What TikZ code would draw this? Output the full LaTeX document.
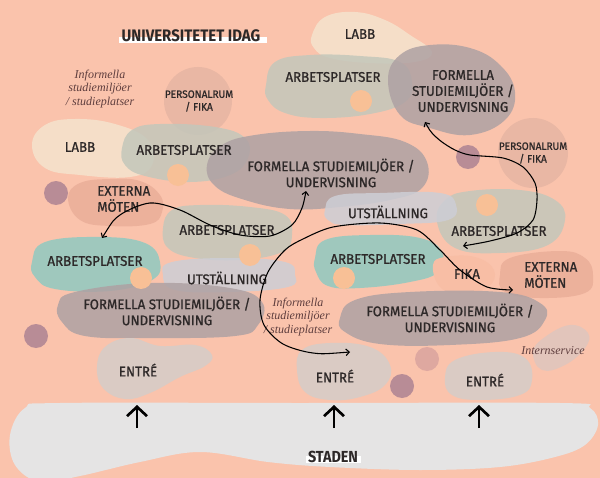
\documentclass[tikz,border=0pt]{standalone}
\usepackage{fontspec}
\setmainfont{Fira Sans}[FakeStretch=0.95,FakeBold=0.9]
\newfontfamily\boldlab{Fira Sans Bold}[FakeStretch=0.9]
\newfontfamily\seriflab{Liberation Serif}
\usetikzlibrary{arrows.meta}
\definecolor{bg}{RGB}{250,195,172}
\definecolor{cream}{RGB}{245,227,205}
\definecolor{sage}{RGB}{195,199,187}
\definecolor{mauve}{RGB}{174,161,163}
\definecolor{teal}{RGB}{144,202,193}
\definecolor{utst}{RGB}{205,206,214}
\definecolor{ext}{RGB}{234,174,153}
\definecolor{entre}{RGB}{218,203,196}
\definecolor{staden}{RGB}{229,228,228}
\definecolor{pers}{RGB}{233,183,164}
\definecolor{orng}{RGB}{248,192,150}
\definecolor{dotm}{RGB}{184,140,150}
\definecolor{dotp}{RGB}{222,168,160}
\definecolor{fika}{RGB}{248,190,165}
\definecolor{intern}{RGB}{226,197,187}
\definecolor{ink}{RGB}{45,40,40}
\definecolor{itink}{RGB}{95,62,62}
\tikzset{
  blob/.style={fill opacity=0.85},
  lab/.style={font=\fontsize{10.5}{12}\selectfont, text=ink, align=center, inner sep=0pt},
  smalllab/.style={font=\fontsize{8}{9.5}\selectfont, text=ink, align=center, inner sep=0pt},
  itlab/.style={font=\fontsize{9}{10}\selectfont\seriflab\itshape, text=itink, align=center, inner sep=0pt},
  flow/.style={line width=0.8pt, black, {Straight Barb[length=2.5pt,width=5pt]}-{Straight Barb[length=2.5pt,width=5pt]}},
  uparrow/.style={line width=2pt, black, -{Straight Barb[length=7pt,width=15pt]}},
  odot/.style={fill=orng},
}
\begin{document}
\begin{tikzpicture}[x=0.75pt,y=-0.75pt]
\useasboundingbox (0,0) rectangle (600,478);
\fill[bg] (0,0) rectangle (600,478);
\begin{scope}
\clip (0,0) rectangle (600,478);
% cream LABB blobs
\fill[cream,blob] plot[smooth cycle,tension=0.7] coordinates {(312,35)(325,17)(355,12)(385,20)(410,35)(432,52)(415,62)(370,63)(330,58)(314,48)};
\fill[cream,blob] plot[smooth cycle,tension=0.7] coordinates {(32,145)(45,125)(75,119)(115,124)(148,140)(152,165)(130,177)(80,175)(45,168)};
% personalrum circles
\fill[pers] (198,101) circle (34);
\fill[pers] (533,153) circle (35);
% sage blobs
\fill[sage,blob] plot[smooth cycle,tension=0.7] coordinates {(266,85)(275,62)(310,55)(360,56)(400,62)(412,82)(405,102)(370,114)(320,118)(285,113)(268,100)};
\fill[sage,blob] plot[smooth cycle,tension=0.7] coordinates {(122,148)(132,130)(160,124)(215,127)(245,138)(248,158)(230,175)(190,182)(145,176)(125,165)};
\fill[sage,blob] plot[smooth cycle,tension=0.7] coordinates {(163,228)(172,210)(200,205)(250,207)(285,215)(292,235)(282,252)(240,260)(195,258)(168,248)};
\fill[sage,blob] plot[smooth cycle,tension=0.7] coordinates {(437,222)(445,200)(470,191)(520,190)(555,200)(565,220)(548,245)(500,253)(455,248)};
% mauve formella blobs
\fill[mauve,blob] plot[smooth cycle,tension=0.7] coordinates {(388,80)(400,55)(430,45)(470,48)(500,65)(515,92)(505,120)(470,135)(430,128)(400,115)};
\fill[mauve,blob] plot[smooth cycle,tension=0.7] coordinates {(207,165)(222,145)(255,135)(310,131)(360,134)(405,142)(427,162)(422,188)(390,200)(340,207)(290,209)(245,200)(215,186)};
% externa left
\fill[ext,blob] plot[smooth cycle,tension=0.7] coordinates {(68,198)(80,183)(110,179)(140,181)(160,195)(162,212)(150,224)(110,226)(80,220)};
% teal blobs
\fill[teal,blob] plot[smooth cycle,tension=0.7] coordinates {(32,262)(45,242)(100,237)(145,243)(160,262)(152,280)(110,291)(55,289)(35,277)};
\fill[teal,blob] plot[smooth cycle,tension=0.7] coordinates {(315,258)(325,240)(370,235)(420,238)(442,252)(438,272)(410,282)(360,288)(328,286)(316,272)};
% utstallning
\fill[utst,blob] plot[smooth cycle,tension=0.7] coordinates {(325,210)(335,196)(380,193)(440,193)(456,205)(448,220)(400,224)(345,225)(328,220)};
\fill[utst,blob] plot[smooth cycle,tension=0.7] coordinates {(163,275)(172,262)(230,258)(285,262)(295,275)(288,287)(230,292)(175,290)};
% fika and externa right
\fill[fika] plot[smooth cycle,tension=0.7] coordinates {(433,265)(445,257)(475,257)(494,270)(488,287)(460,293)(440,287)};
\fill[ext,blob] plot[smooth cycle,tension=0.7] coordinates {(500,275)(510,258)(560,251)(585,258)(593,275)(585,293)(540,298)(505,292)};
% formella bottom
\fill[mauve,blob] plot[smooth cycle,tension=0.7] coordinates {(58,305)(75,292)(150,283)(230,288)(262,302)(258,325)(235,336)(150,338)(85,336)(62,322)};
\fill[mauve,blob] plot[smooth cycle,tension=0.7] coordinates {(340,318)(355,300)(410,292)(500,292)(540,303)(545,320)(520,338)(450,345)(380,344)(345,332)};
% entre + intern
\fill[entre] plot[smooth cycle,tension=0.7] coordinates {(97,367)(105,347)(130,338)(160,346)(195,345)(212,355)(205,366)(180,377)(150,393)(125,399)(103,388)};
\fill[entre] plot[smooth cycle,tension=0.7] coordinates {(297,370)(302,350)(330,343)(370,347)(390,365)(385,385)(360,397)(330,400)(305,392)};
\fill[entre] plot[smooth cycle,tension=0.7] coordinates {(445,378)(455,360)(495,352)(525,358)(532,380)(520,395)(480,400)(452,395)};
\fill[intern] plot[smooth cycle,tension=0.7] coordinates {(533,352)(545,337)(570,325)(588,333)(585,348)(565,365)(542,370)};
% dots
\fill[dotm] (56,193) circle (12);
\fill[dotm] (468,157) circle (12);
\fill[dotm] (36,336) circle (12);
\fill[dotm] (402,386) circle (12);
\fill[dotp] (427,359) circle (12);
\fill[odot] (361,101) circle (11);
\fill[odot] (178,175) circle (11);
\fill[odot] (250,255) circle (11);
\fill[odot] (141,278) circle (11);
\fill[odot] (487,205) circle (11);
\fill[odot] (344,278) circle (11);
% staden
\fill[staden] plot[smooth cycle,tension=0.6] coordinates {(10,435)(25,408)(60,403)(300,403)(560,403)(590,408)(598,425)(585,445)(555,457)(500,467)(420,470)(330,467)(268,462)(200,452)(140,462)(80,476)(40,482)(15,465)};
\end{scope}
% title bars
\fill[white] (119,37) rectangle (267,43);
\fill[white] (306,456) rectangle (361,463);
\node[font=\fontsize{12.5}{14}\selectfont\boldlab, text=ink, inner sep=0pt] (title) at (191,36) {UNIVERSITETET IDAG};
\node[font=\fontsize{12}{14}\selectfont\boldlab, text=ink, inner sep=0pt] (staden) at (333,457) {STADEN};
% labels
\node[lab] (labb1) at (360,34) {LABB};
\node[lab] (arb1) at (333,77) {ARBETSPLATSER};
\node[lab] (form1) at (463,91) {FORMELLA\\STUDIEMILJÖER /\\UNDERVISNING};
\node[itlab] (inf1) at (100,89) {Informella\\studiemiljöer\\/ studieplatser};
\node[smalllab] (pers1) at (199,101) {PERSONALRUM\\/ FIKA};
\node[lab] (labb2) at (80,147) {LABB};
\node[lab] (arb2) at (184,150) {ARBETSPLATSER};
\node[lab] (form2) at (331,173) {FORMELLA STUDIEMILJÖER /\\UNDERVISNING};
\node[lab, align=left, anchor=west] (ext1) at (97,199) {EXTERNA\\MÖTEN};
\node[smalllab] (pers2) at (533,153) {PERSONALRUM\\/ FIKA};
\node[lab] (arb3) at (227,230) {ARBETSPLATSER};
\node[lab] (utst1) at (388,212) {UTSTÄLLNING};
\node[lab] (arb4) at (499,231) {ARBETSPLATSER};
\node[lab] (arb5) at (95,261) {ARBETSPLATSER};
\node[lab] (utst2) at (227,278) {UTSTÄLLNING};
\node[lab] (arb6) at (378,259) {ARBETSPLATSER};
\node[lab] (fika) at (467,274) {FIKA};
\node[lab, align=left, anchor=west] (ext2) at (524,275) {EXTERNA\\MÖTEN};
\node[lab] (form3) at (167,311) {FORMELLA STUDIEMILJÖER /\\UNDERVISNING};
\node[itlab] (inf2) at (298,317) {Informella\\studiemiljöer\\/ studieplatser};
\node[lab] (form4) at (450,318) {FORMELLA STUDIEMILJÖER /\\UNDERVISNING};
\node[lab] (entre1) at (138,370) {ENTRÉ};
\node[lab] (entre2) at (335,376) {ENTRÉ};
\node[lab] (entre3) at (485,380) {ENTRÉ};
\node[itlab] (intern) at (553,351) {Internservice};
% flows
\draw[flow] plot[smooth] coordinates {(102,238)(120,215)(150,203)(180,210)(210,225)(240,235)(270,236)(292,225)(302,208)(306,191)};
\draw[flow] plot[smooth] coordinates {(425,122)(432,133)(442,142)(455,150)(470,155)(503,158)(523,167)(535,183)(537,200)(533,220)(517,233)(490,241)(463,246)};
\draw[flow] plot[smooth] coordinates {(350,352)(313,353)(283,344)(264,325)(260,300)(268,272)(285,250)(303,239)(333,227)(380,223)(417,230)(440,250)(460,270)(487,287)(513,290)};
% entrance arrows
\coordinate (a1s) at (137,428); \coordinate (a1e) at (137,405);
\coordinate (a2s) at (334,428); \coordinate (a2e) at (334,405);
\coordinate (a3s) at (479,428); \coordinate (a3e) at (479,405);
\draw[uparrow] (a1s) -- (a1e);
\draw[uparrow] (a2s) -- (a2e);
\draw[uparrow] (a3s) -- (a3e);
\end{tikzpicture}
\end{document}
